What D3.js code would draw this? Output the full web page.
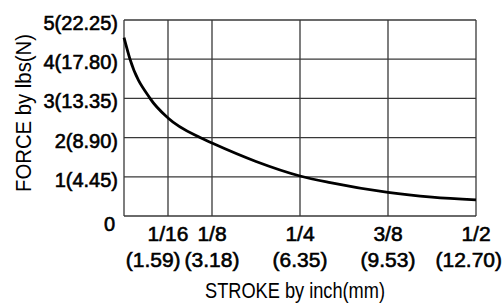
<!DOCTYPE html>
<html>
<head>
<meta charset="utf-8">
<script src="https://cdn.jsdelivr.net/npm/d3@7"></script>
<style>
  body { margin: 0; background: #fff; }
  svg { display: block; }
  .tick-lab { font-family: "Liberation Sans", Arial, sans-serif; font-size: 20px; fill: #000; stroke: #000; stroke-width: 0.6; }
  .x-lab { font-size: 21px; }
  .title { font-family: "Liberation Sans", Arial, sans-serif; font-size: 22px; fill: #000; }
</style>
</head>
<body>
<svg></svg>
<script>
// stroke (inch) vs force (lbs)
const strokeIn = [0, 0.0085, 0.037, 0.0625, 0.108, 0.125, 0.1875, 0.25, 0.293, 0.375, 0.4375, 0.5];
const forceLbs = [4.55, 4.0, 3.0, 2.5, 2.0, 1.86, 1.39, 1.02, 0.85, 0.60, 0.48, 0.41];

// axis ticks
const xTicks = [1/16, 1/8, 1/4, 3/8, 1/2];
const xTickTop = ['1/16', '1/8', '1/4', '3/8', '1/2'];
const xTickBottom = ['(1.59)', '(3.18)', '(6.35)', '(9.53)', '(12.70)'];
const yTicks = [0, 1, 2, 3, 4, 5];
const yTickLabels = ['0', '1(4.45)', '2(8.90)', '3(13.35)', '4(17.80)', '5(22.25)'];

const size = {w: 504, h: 304};
const margin = {t: 20, r: 28, b: 88, l: 124};

const svg = d3.select('svg')
    .attr('width', size.w)
    .attr('height', size.h);

const x = d3.scaleLinear()
    .domain([0, 0.5])
    .range([margin.l, size.w - margin.r]);
const y = d3.scaleLinear()
    .domain([0, 5])
    .range([size.h - margin.b, margin.t]);

const gridColor = '#383838';

//grid lines
svg.append('g').selectAll('line')
    .data(yTicks)
    .enter().append('line')
    .attr('x1', x(0)).attr('x2', x(0.5))
    .attr('y1', d => y(d)).attr('y2', d => y(d))
    .attr('stroke', gridColor).attr('stroke-width', 1.3);

svg.append('g').selectAll('line')
    .data([0].concat(xTicks))
    .enter().append('line')
    .attr('x1', d => x(d)).attr('x2', d => x(d))
    .attr('y1', y(0)).attr('y2', y(5))
    .attr('stroke', gridColor).attr('stroke-width', 1.3);

//curve
const line = d3.line()
    .x(d => x(d[0]))
    .y(d => y(d[1]))
    .curve(d3.curveMonotoneX);

svg.append('path')
    .datum(strokeIn.map((s, i) => [s, forceLbs[i]]))
    .attr('d', line)
    .attr('fill', 'none')
    .attr('stroke', '#000')
    .attr('stroke-width', 2.8);

//y tick labels
svg.append('g').selectAll('text')
    .data(yTicks)
    .enter().append('text')
    .classed('tick-lab', true)
    .attr('x', d => d === 0 ? x(0) - 9 : x(0) - 6)
    .attr('y', d => d === 0 ? y(d) + 15 : y(d) + 10)
    .attr('text-anchor', 'end')
    .text((d, i) => yTickLabels[i]);

//x tick labels, two rows
function xRow(labels, yPos){
    let sel = svg.append('g').selectAll('text')
        .data(xTicks)
        .enter().append('text')
        .classed('tick-lab x-lab', true)
        .attr('x', d => x(d))
        .attr('y', yPos)
        .attr('text-anchor', 'middle')
        .text((d, i) => labels[i]);

    // push labels left so they don't run into the next one or off the page
    let nodes = sel.nodes();
    let limit = size.w - 2;
    for(let i = nodes.length - 1; i >= 0; i--){
        let box = nodes[i].getBBox();
        let cx = +nodes[i].getAttribute('x');
        if(box.x + box.width > limit){
            cx -= box.x + box.width - limit;
            nodes[i].setAttribute('x', cx);
        }
        limit = cx - box.width / 2 - 4;
    }
}
xRow(xTickTop, y(0) + 25);
xRow(xTickBottom, y(0) + 51);

//axis titles
svg.append('text')
    .classed('title', true)
    .attr('x', 205)
    .attr('y', 298)
    .attr('textLength', 180)
    .attr('lengthAdjust', 'spacingAndGlyphs')
    .text('STROKE by inch(mm)');

svg.append('text')
    .classed('title', true)
    .attr('transform', 'translate(31,192) rotate(-90)')
    .attr('textLength', 158)
    .attr('lengthAdjust', 'spacingAndGlyphs')
    .text('FORCE by lbs(N)');
</script>
</body>
</html>
